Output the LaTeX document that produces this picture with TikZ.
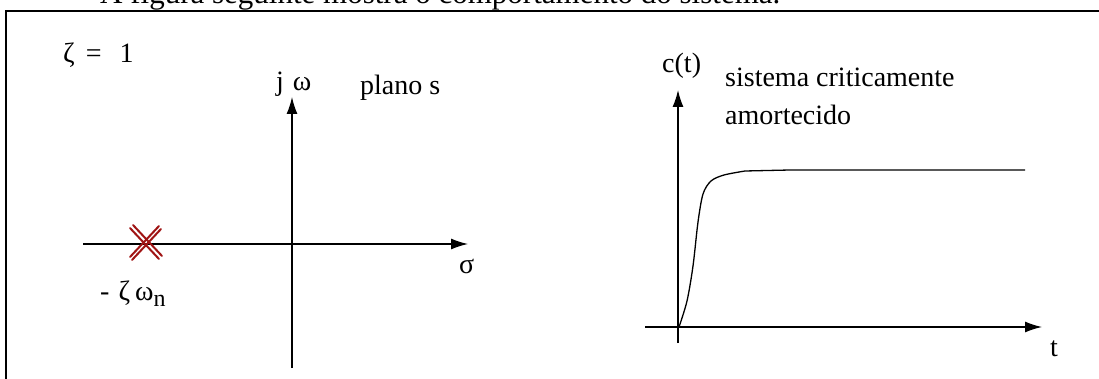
\documentclass[tikz,border=0pt]{standalone}
\usepackage{fontspec}
\setmainfont{Liberation Serif}
\usetikzlibrary{arrows.meta}
\definecolor{polered}{RGB}{160,20,20}

\begin{document}
\begin{tikzpicture}[x=1pt, y=-1pt,
		axis/.style={line width=1.4pt, -{Latex[length=17pt,width=11pt]}},
		lbl/.style={inner sep=0pt, anchor=base west, font=\fontsize{28}{38}\selectfont},
		pole/.style={polered, line width=2pt, line cap=round}]
		\useasboundingbox (0,0) rectangle (1099,379);
		\node [inner sep=0pt, anchor=base west, font=\fontsize{31}{36}\selectfont] (cap) at (100, 4) {A figura seguinte mostra o comportamento do sistema.};
		\draw [line width=2pt] (6, 379) -- (6, 11) -- (1099, 11);
		% plano s
		\coordinate (sw) at (83, 244);
		\coordinate (se) at (468, 244);
		\coordinate (sb) at (292, 368);
		\coordinate (st) at (292, 97);
		\draw [axis] (sw) -- (se);
		\draw [axis] (sb) -- (st);
		\coordinate (pole) at (145, 242);
		\draw [pole] (pole) ++(-15, -14) -- ++(29, 31);
		\draw [pole] (pole) ++(-12, -17) -- ++(29, 31);
		\draw [pole] (pole) ++(14, -16) -- ++(-29, 31);
		\draw [pole] (pole) ++(16, -13) -- ++(-29, 31);
		\node [lbl] (zeta) at (63, 63) {ζ\hspace{11pt}=\hspace{18pt}1};
		\node [lbl] (jw) at (276, 91) {j\hspace{9pt}ω};
		\node [lbl] (plano) at (360, 95) {plano s};
		\node [lbl] (sigma) at (459, 273) {σ};
		\node [lbl] (polelbl) at (100, 300) {-\hspace{9pt}ζ\hspace{5pt}ω\raisebox{-6pt}{\fontsize{24}{24}\selectfont n}};
		% resposta
		\coordinate (tw) at (645, 327);
		\coordinate (te) at (1042, 327);
		\coordinate (cb) at (678, 343);
		\coordinate (ct) at (678, 90);
		\draw [axis] (tw) -- (te);
		\draw [axis] (cb) -- (ct);
		\draw [line width=1.3pt] plot [smooth] coordinates {(679, 327) (687, 301) (693, 266) (698, 222) (703, 194) (711, 181) (724, 175) (745, 171)} -- (790, 170) -- (1025, 170);
		\node [lbl] (ctlbl) at (662, 73) {c(t)};
		\node [lbl] (desc1) at (725, 87) {sistema criticamente};
		\node [lbl] (desc2) at (725, 125) {amortecido};
		\node [lbl] (tlbl) at (1050, 356) {t};
	\end{tikzpicture}
\end{document}
